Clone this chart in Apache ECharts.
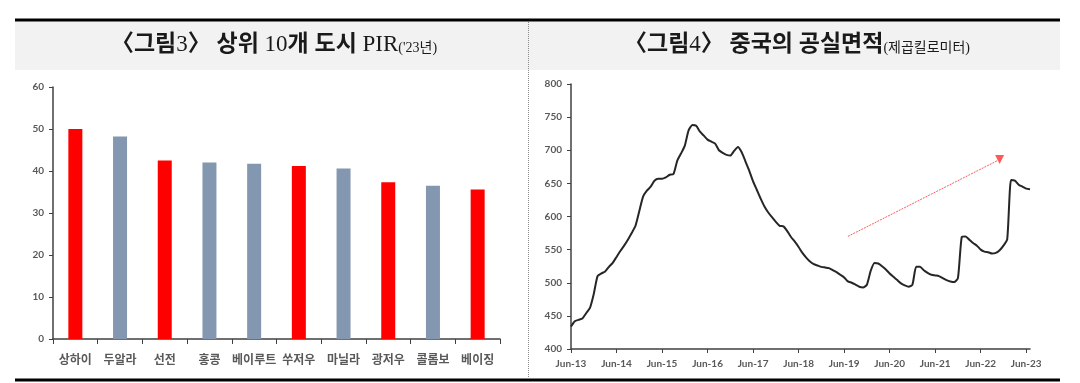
<!DOCTYPE html>
<html><head><meta charset="utf-8">
<script src="https://cdn.jsdelivr.net/npm/echarts@6/dist/echarts.min.js"></script>
<style>html,body{margin:0;padding:0;background:#fff}#c{width:1080px;height:383px}</style>
</head><body><div id="c"></div>
<script>
// ---- Left chart data: PIR of top 10 cities ('23) ----
const cities = ['상하이','두알라','선전','홍콩','베이루트','쑤저우','마닐라','광저우','콜롬보','베이징'];
const pirValues = [50.0, 48.2, 42.5, 42.0, 41.7, 41.2, 40.6, 37.3, 36.5, 35.6];
const mainlandCities = ['상하이','선전','쑤저우','광저우','베이징'];

// ---- Right chart data: China vacant floor area (km²), monthly Jun-13 .. Jul-23 ----
const startYear = 2013, startMonth = 6; // first category: Jun-13
const vacancy = [
  434, 442, 444, 446, 454, 462, 483, 510, 514, 517, 524, 530,
  539, 548, 556, 565, 575, 586, 608, 630, 639, 645, 654, 657,
  657, 659, 663, 664, 684, 695, 707, 730, 738, 737, 728, 722,
  716, 713, 710, 700, 696, 693, 692, 699, 705, 697, 683, 669,
  653, 640, 627, 615, 606, 599, 592, 586, 585, 578, 569, 562,
  554, 545, 538, 532, 528, 526, 524, 523, 522, 519, 516, 512,
  508, 502, 500, 497, 494, 493, 497, 518, 530, 529, 525, 520,
  514, 509, 504, 499, 496, 494, 497, 524, 524, 519, 515, 512,
  511, 510, 507, 504, 502, 501, 507, 569, 570, 565, 560, 556,
  550, 547, 546, 544, 545, 549, 556, 566, 655, 654, 648, 645,
  642, 641
];
const arrowFrom = ['Jul-19', 570];
const arrowTo = ['Nov-22', 686];

const monNames = ['Jan','Feb','Mar','Apr','May','Jun','Jul','Aug','Sep','Oct','Nov','Dec'];
const months = vacancy.map((_, i) => {
  const t = (startMonth - 1) + i;
  const y = startYear + Math.floor(t / 12);
  return monNames[t % 12] + '-' + String(y % 100).padStart(2, '0');
});

const RED = '#ff0000', GRAY = '#8497b0';
const axisCol = '#404040', labCol = '#595959';
const numFont = { fontFamily: 'Lato', fontWeight: 'bold', fontSize: 10, color: labCol };
const serifKR = "'Liberation Serif','Noto Sans CJK KR'";
const titleRich = {
  k: { fontFamily: serifKR, fontSize: 23, fontWeight: 'bold', fill: '#1a1a1a' },
  l: { fontFamily: serifKR, fontSize: 23, fontWeight: 'normal', fill: '#1a1a1a' },
  b: { fontFamily: serifKR, fontSize: 14, fill: '#1a1a1a', padding: [6, 0, 0, 0] }
};

const chart = echarts.init(document.getElementById('c'), null, { renderer: 'canvas' });
chart.setOption({
  animation: false,
  backgroundColor: '#fff',
  graphic: [
    { type: 'rect', shape: { x: 15, y: 21, width: 1045, height: 49 }, style: { fill: '#f2f2f2' }, z: -10 },
    { type: 'line', shape: { x1: 15, y1: 20, x2: 1060, y2: 20 }, style: { stroke: '#000', lineWidth: 3 } },
    { type: 'line', shape: { x1: 15, y1: 380, x2: 1060, y2: 380 }, style: { stroke: '#000', lineWidth: 3 } },
    { type: 'line', shape: { x1: 528.5, y1: 22, x2: 528.5, y2: 378 }, style: { stroke: '#8c8c8c', lineWidth: 1, lineDash: [1, 1] } },
    { type: 'text', x: 274, y: 45, style: {
        text: '{k|〈그림}{l|3}{k|〉 상위 }{l|10}{k|개 도시 }{l|PIR}{b|(\'23년)}',
        align: 'center', verticalAlign: 'middle', rich: titleRich } },
    { type: 'text', x: 797, y: 45, style: {
        text: '{k|〈그림}{l|4}{k|〉 중국의 공실면적}{b|(제곱킬로미터)}',
        align: 'center', verticalAlign: 'middle', rich: titleRich } }
  ],
  grid: [
    { left: 53, right: 580, top: 87, bottom: 44 },
    { left: 571, right: 50, top: 84, bottom: 34 }
  ],
  xAxis: [
    { type: 'category', gridIndex: 0, data: cities, boundaryGap: true,
      axisLine: { lineStyle: { color: axisCol, width: 1.5 } },
      axisTick: { show: true, length: 5, lineStyle: { color: axisCol } },
      axisLabel: { margin: 14, fontFamily: 'Noto Sans CJK KR', fontWeight: 'bold', fontSize: 12, color: labCol, interval: 0 } },
    { type: 'category', gridIndex: 1, data: months, boundaryGap: false,
      axisLine: { lineStyle: { color: axisCol, width: 1.5 } },
      axisTick: { show: true, length: 4, interval: 11, lineStyle: { color: axisCol } },
      axisLabel: Object.assign({ margin: 10, interval: 11 }, numFont) }
  ],
  yAxis: [
    { type: 'value', gridIndex: 0, min: 0, max: 60, interval: 10,
      splitLine: { show: false },
      axisLine: { show: true, lineStyle: { color: axisCol, width: 1.5 } },
      axisTick: { show: true, length: 4, lineStyle: { color: axisCol } },
      axisLabel: Object.assign({ margin: 9 }, numFont) },
    { type: 'value', gridIndex: 1, min: 400, max: 800, interval: 50,
      splitLine: { show: false },
      axisLine: { show: true, lineStyle: { color: axisCol, width: 1.5 } },
      axisTick: { show: true, length: 4, lineStyle: { color: axisCol } },
      axisLabel: Object.assign({ margin: 9 }, numFont) }
  ],
  series: [
    { type: 'bar', xAxisIndex: 0, yAxisIndex: 0, barWidth: 14,
      data: pirValues.map((v, i) => ({ value: v,
        itemStyle: { color: mainlandCities.includes(cities[i]) ? RED : GRAY } })) },
    { type: 'line', xAxisIndex: 1, yAxisIndex: 1, data: vacancy,
      showSymbol: false, symbol: 'none', smooth: 0.2,
      lineStyle: { color: '#262626', width: 2 },
      markLine: { silent: true, symbol: ['none', 'triangle'], symbolSize: 9,
        symbolRotate: 180,
        label: { show: false },
        lineStyle: { color: '#ff5a5a', width: 1, type: [2, 1] },
        data: [[{ coord: arrowFrom }, { coord: arrowTo, itemStyle: { color: '#ff0000' } }]] } }
  ]
});
</script></body></html>
